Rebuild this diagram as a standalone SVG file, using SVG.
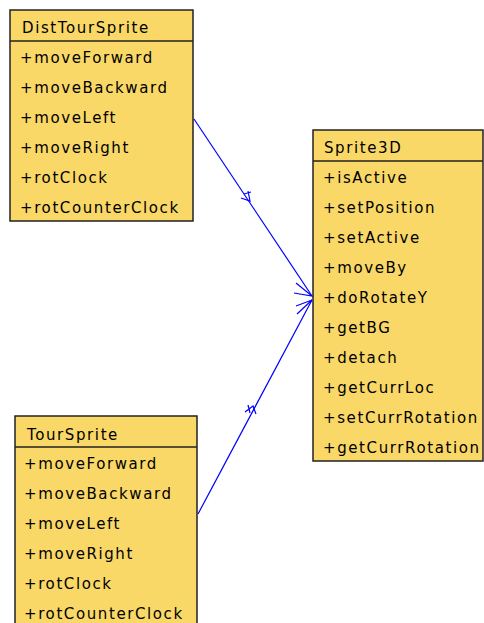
<svg xmlns="http://www.w3.org/2000/svg" width="484" height="623" viewBox="0 0 484 623">
<style>
.box{fill:#F9D868;stroke:#222;stroke-width:1.5}
.sep{stroke:#222;stroke-width:1.5}
text{font-family:"DejaVu Sans",sans-serif;font-size:15px;letter-spacing:1.6px;fill:#000}
.c{fill:none;stroke:#0000FF;stroke-width:1.2}
</style>
<rect width="484" height="623" fill="#fff"/>
<g id="connectors">
<path class="c" d="M194 119 L312 296"/>
<path class="c" d="M241 198 L250 201 L248 191 M244 194 L251 192"/>
<path class="c" d="M296 283 L312 296 L294 293"/>
<path class="c" d="M198 514 L312 300"/>
<path class="c" d="M245 412 L253 406 L256 414 M248 405 L250 413"/>
<path class="c" d="M296 306 L312 300 L297 314"/>
</g>
<g id="DistTourSprite">
<rect class="box" x="10" y="10" width="183" height="211"/>
<line class="sep" x1="10" y1="41" x2="193" y2="41"/>
<text x="22" y="33">DistTourSprite</text>
<text x="20" y="63">+moveForward</text>
<text x="20" y="93">+moveBackward</text>
<text x="20" y="123">+moveLeft</text>
<text x="20" y="153">+moveRight</text>
<text x="20" y="183">+rotClock</text>
<text x="20" y="213">+rotCounterClock</text>
</g>
<g id="Sprite3D">
<rect class="box" x="313" y="130" width="170" height="331"/>
<line class="sep" x1="313" y1="161" x2="483" y2="161"/>
<text x="324" y="153">Sprite3D</text>
<text x="323" y="183">+isActive</text>
<text x="323" y="213">+setPosition</text>
<text x="323" y="243">+setActive</text>
<text x="323" y="273">+moveBy</text>
<text x="323" y="303">+doRotateY</text>
<text x="323" y="333">+getBG</text>
<text x="323" y="363">+detach</text>
<text x="323" y="393">+getCurrLoc</text>
<text x="323" y="423">+setCurrRotation</text>
<text x="323" y="453">+getCurrRotation</text>
</g>
<g id="TourSprite">
<rect class="box" x="15" y="416" width="182" height="215"/>
<line class="sep" x1="15" y1="447" x2="197" y2="447"/>
<text x="27" y="440">TourSprite</text>
<text x="24" y="469">+moveForward</text>
<text x="24" y="499">+moveBackward</text>
<text x="24" y="529">+moveLeft</text>
<text x="24" y="559">+moveRight</text>
<text x="24" y="589">+rotClock</text>
<text x="24" y="619">+rotCounterClock</text>
</g>
</svg>
